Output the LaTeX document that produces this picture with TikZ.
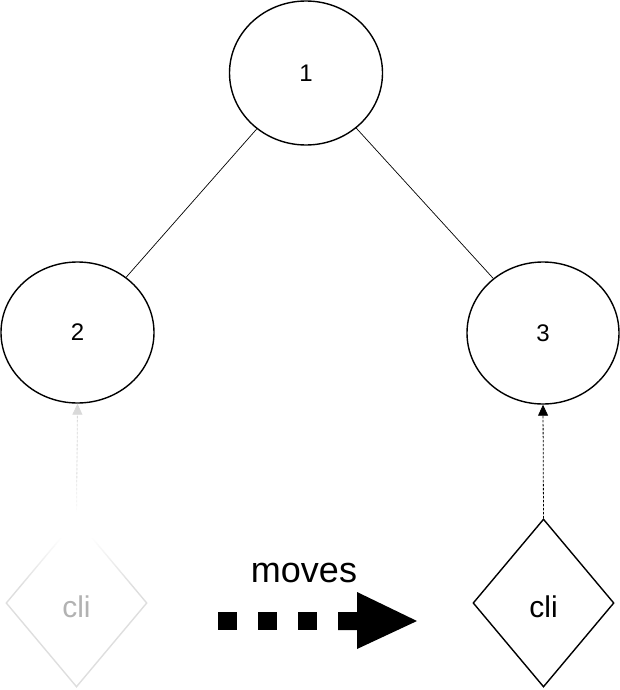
\documentclass[tikz,border=0pt]{standalone}
\usepackage{fontspec}
\setmainfont{Liberation Sans}
\usetikzlibrary{shapes.geometric,arrows.meta}
\tikzset{
  treenode/.style={draw, line width=1.4pt, ellipse, inner sep=0pt, font=\fontsize{24}{24}\selectfont},
  clinode/.style={draw, line width=1.4pt, diamond, inner sep=0pt, minimum width=141pt, minimum height=168pt, text height=28pt, text depth=0pt, font=\fontsize{30}{30}\selectfont},
  treeedge/.style={line width=0.7pt},
  pointer/.style={line width=0.8pt, dash pattern=on 2.5pt off 1.5pt, -{Triangle[width=10pt,length=11pt]}},
}
\begin{document}
\begin{tikzpicture}[x=1pt,y=-1pt]
\useasboundingbox (0,0) rectangle (620,690);
\node[treenode, minimum width=153pt, minimum height=144pt] (n1) at (306,73) {1};
\node[treenode, minimum width=153pt, minimum height=141pt] (n2) at (77.5,332.5) {2};
\node[treenode, minimum width=152pt, minimum height=142pt] (n3) at (543,333) {3};
\draw[treeedge] (n1) -- (n2);
\draw[treeedge] (n1) -- (n3);
\node[clinode, draw=black!13, text=black!30] (c1) at (76.5,603) {cli};
\node[clinode] (c2) at (543.5,603) {cli};
\draw[pointer, draw=black!15, fill=black!15] (c1.north) -- (n2.south);
\draw[pointer] (c2.north) -- (n3.south);
% fade-out overlay of the left pointer and diamond tip
\foreach \yy in {470,472,...,588} {
  \pgfmathsetmacro{\op}{\yy<512 ? (\yy-470)/42 : (\yy<536 ? 1 : max(0,1-(\yy-536)/50))}
  \fill[white, fill opacity=\op] (0,\yy) rectangle (160,\yy+2.3);
}
\node[font=\fontsize{36}{36}\selectfont, inner sep=0pt] (mv) at (304,573) {moves};
\coordinate (a0) at (218,621);
\foreach \i in {0,1,2} {
  \fill ([xshift=\i*40pt]a0) ++(0,-9) rectangle ++(19,18);
}
\fill (338,612) -- (357,612) -- (357,592) -- (417,621) -- (357,649) -- (357,630) -- (338,630) -- cycle;
\end{tikzpicture}
\end{document}
